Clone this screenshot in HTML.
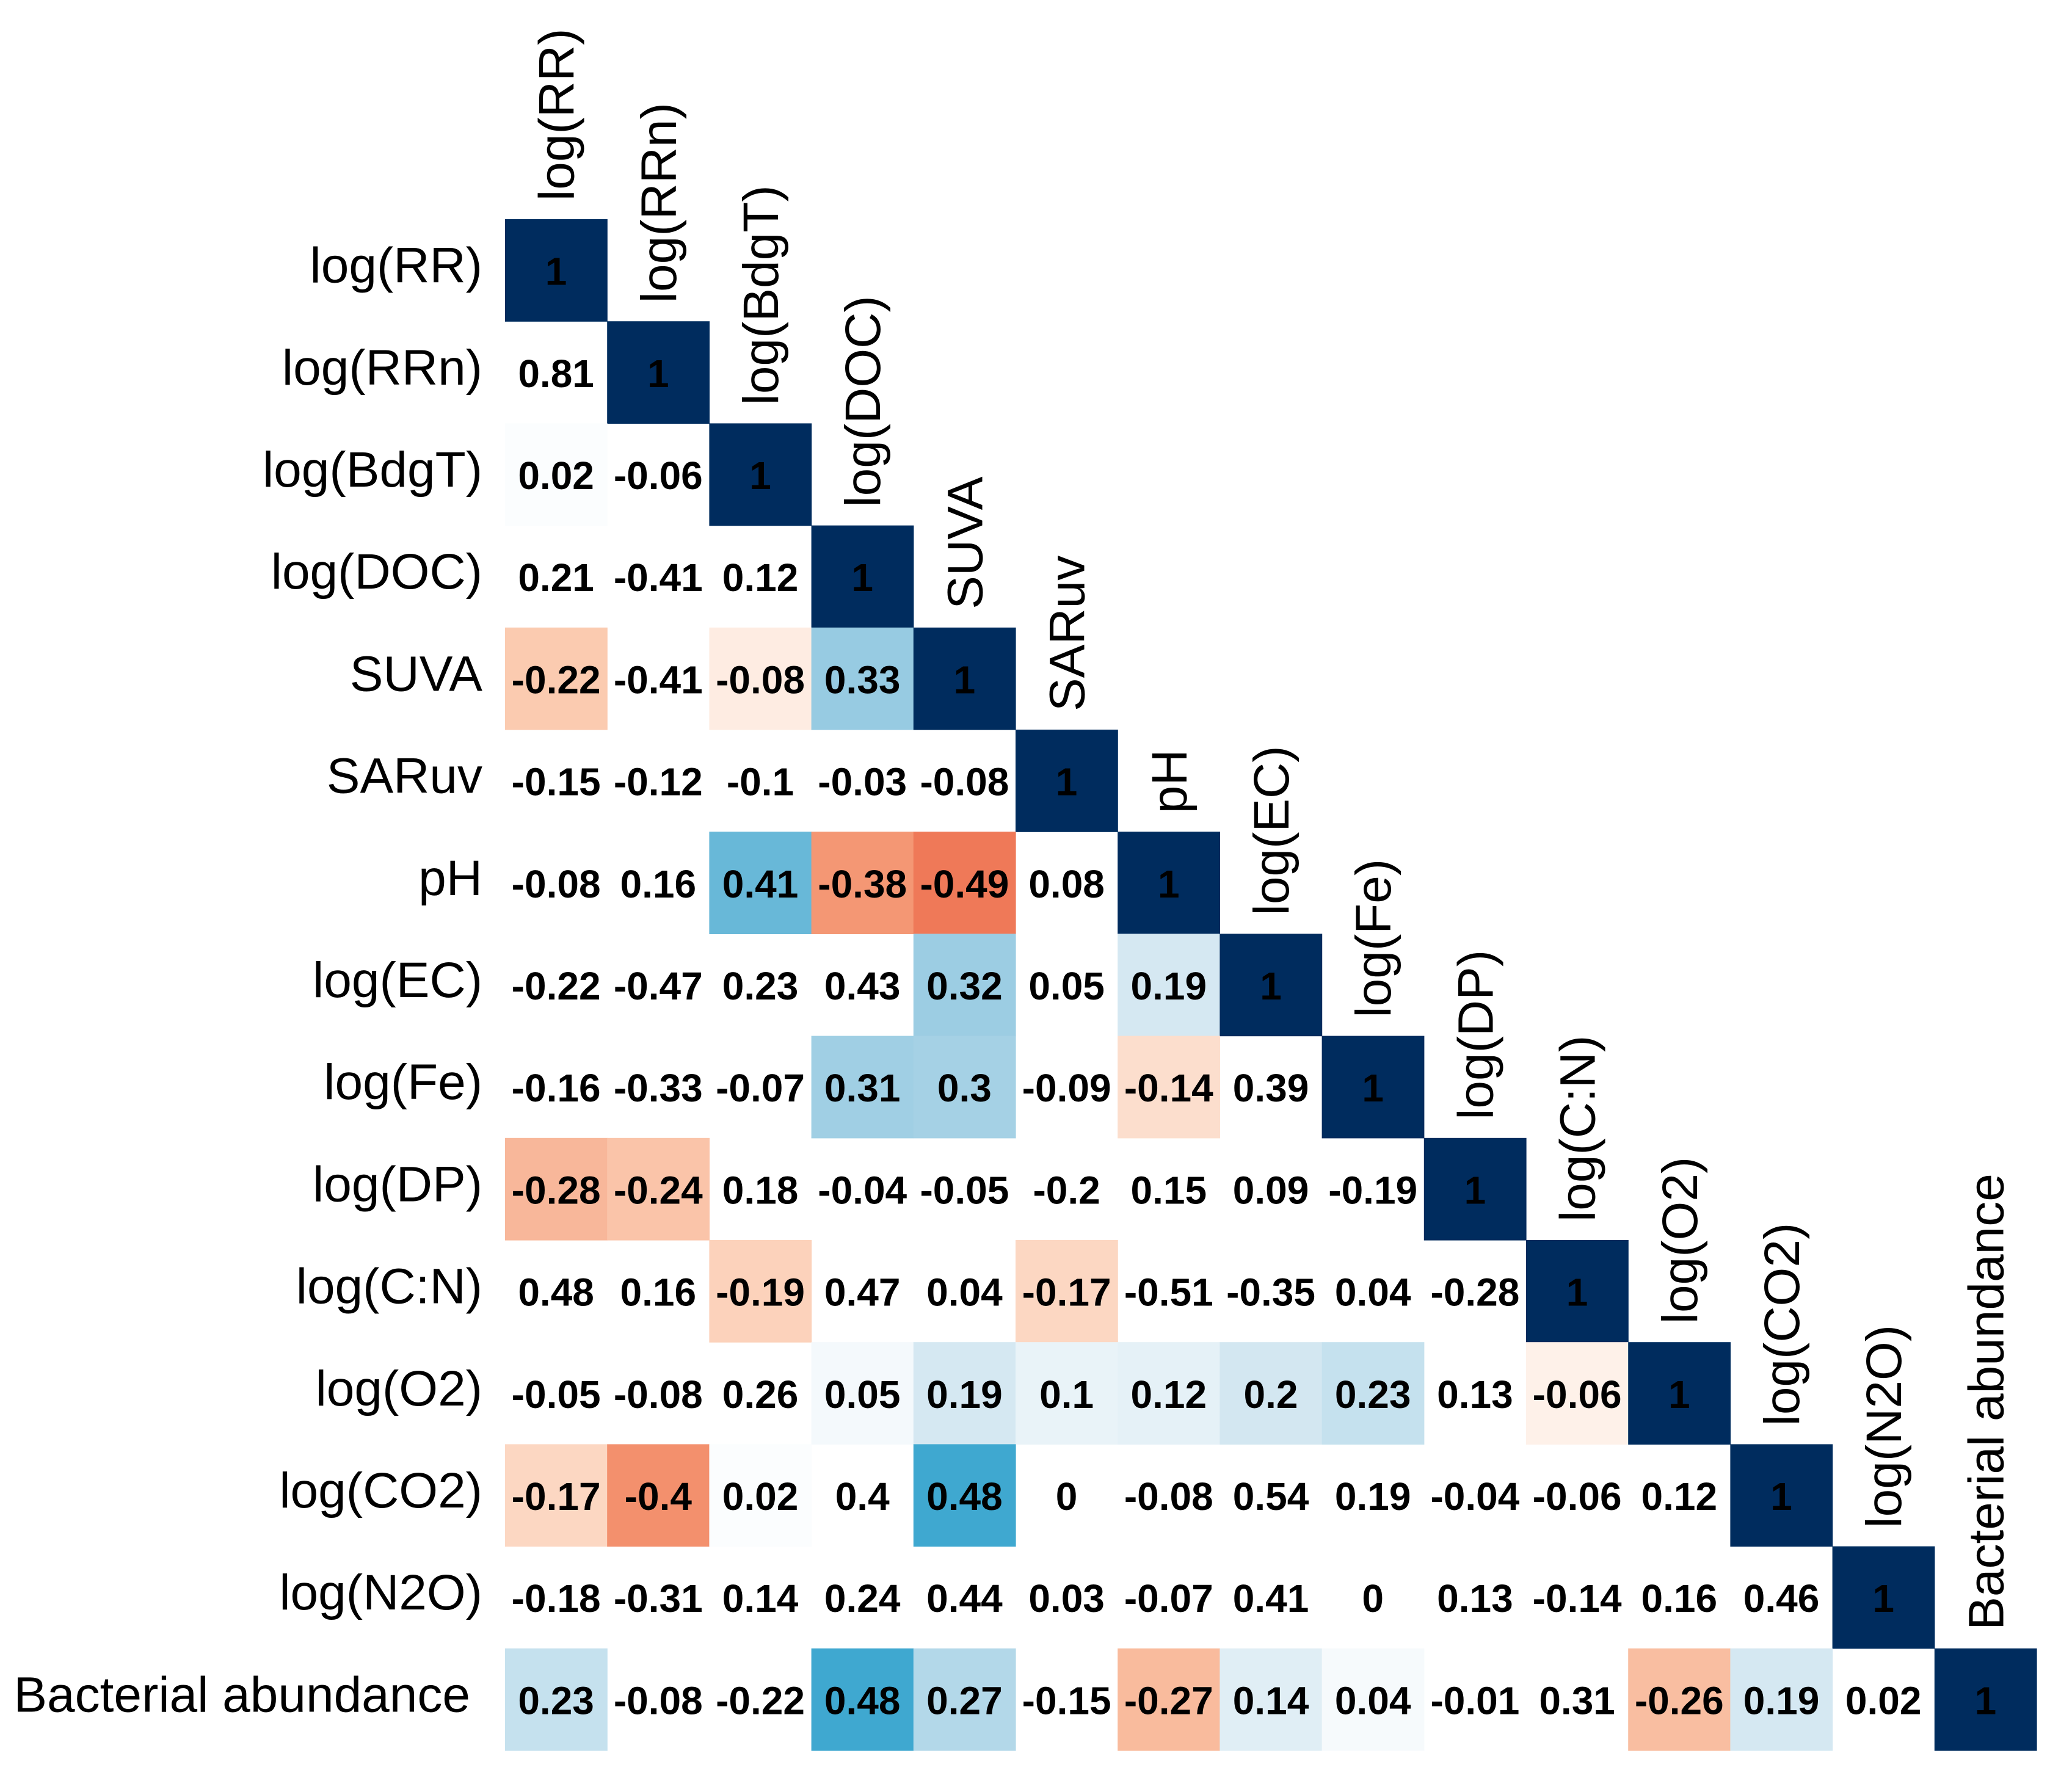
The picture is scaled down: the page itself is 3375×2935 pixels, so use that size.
<!DOCTYPE html>
<html><head><meta charset="utf-8"><style>
html,body{margin:0;padding:0;background:#fff;width:3375px;height:2935px;overflow:hidden}
svg{display:block}
</style></head><body>
<svg id="chart" width="3375" height="2935" xmlns="http://www.w3.org/2000/svg" font-family="Liberation Sans, Arial, sans-serif"></svg>
<script>
const labels = ["log(RR)","log(RRn)","log(BdgT)","log(DOC)","SUVA","SARuv","pH","log(EC)","log(Fe)","log(DP)","log(C:N)","log(O2)","log(CO2)","log(N2O)","Bacterial abundance"];
const values = [
 [1],
 [0.81,1],
 [0.02,-0.06,1],
 [0.21,-0.41,0.12,1],
 [-0.22,-0.41,-0.08,0.33,1],
 [-0.15,-0.12,-0.1,-0.03,-0.08,1],
 [-0.08,0.16,0.41,-0.38,-0.49,0.08,1],
 [-0.22,-0.47,0.23,0.43,0.32,0.05,0.19,1],
 [-0.16,-0.33,-0.07,0.31,0.3,-0.09,-0.14,0.39,1],
 [-0.28,-0.24,0.18,-0.04,-0.05,-0.2,0.15,0.09,-0.19,1],
 [0.48,0.16,-0.19,0.47,0.04,-0.17,-0.51,-0.35,0.04,-0.28,1],
 [-0.05,-0.08,0.26,0.05,0.19,0.1,0.12,0.2,0.23,0.13,-0.06,1],
 [-0.17,-0.4,0.02,0.4,0.48,0,-0.08,0.54,0.19,-0.04,-0.06,0.12,1],
 [-0.18,-0.31,0.14,0.24,0.44,0.03,-0.07,0.41,0,0.13,-0.14,0.16,0.46,1],
 [0.23,-0.08,-0.22,0.48,0.27,-0.15,-0.27,0.14,0.04,-0.01,0.31,-0.26,0.19,0.02,1]
];
// 1 = significant (coloured), 0 = blank
const significant = [
 [1],
 [0,1],
 [1,0,1],
 [0,0,0,1],
 [1,0,1,1,1],
 [0,0,0,0,0,1],
 [0,0,1,1,1,0,1],
 [0,0,0,0,1,0,1,1],
 [0,0,0,1,1,0,1,0,1],
 [1,1,0,0,0,0,0,0,0,1],
 [0,0,1,0,0,1,0,0,0,0,1],
 [0,0,0,1,1,1,1,1,1,0,1,1],
 [1,1,1,0,1,0,0,0,0,0,0,0,1],
 [0,0,0,0,0,0,0,0,0,0,0,0,0,1],
 [1,0,0,1,1,0,1,1,1,0,0,1,1,0,1]
];
const X0=827, Y0=359, CW=167.2, CH=167.2;
const xPos=j=>X0+j*CW, yPos=i=>Y0+i*CH;
function lerp(a,b,t){return a.map((v,k)=>Math.round(v+(b[k]-v)*t));}
function hex(h){return [1,3,5].map(k=>parseInt(h.substr(k,2),16));}
function colour(v){
  if(v>=0.999) return "#002c5e";
  const blue=[[0,"#ffffff"],[0.2,"#d3e7f1"],[0.33,"#97cbe2"],[0.48,"#3fa8d0"],[0.7,"#2166ac"],[1,"#053061"]];
  const red=[[0,"#ffffff"],[0.22,"#fbcbb0"],[0.4,"#f3906d"],[0.5,"#ef7656"],[1,"#67001f"]];
  const s=v>=0?blue:red, a=Math.abs(v);
  for(let k=1;k<s.length;k++){ if(a<=s[k][0]){const t=(a-s[k-1][0])/(s[k][0]-s[k-1][0]);const c=lerp(hex(s[k-1][1]),hex(s[k][1]),t);return `rgb(${c.join(',')})`;}}
  return s[s.length-1][1];
}
const svg=document.getElementById('chart'), NS="http://www.w3.org/2000/svg";
function mk(tag,attrs){const e=document.createElementNS(NS,tag);for(const k in attrs)e.setAttribute(k,attrs[k]);svg.appendChild(e);return e;}
values.forEach((row,i)=>row.forEach((v,j)=>{
  if(significant[i][j]){
    const r=mk('rect',{x:xPos(j),y:yPos(i),width:CW+0.6,height:CH+0.6,fill:colour(v)});
    
    
  }
}));
values.forEach((row,i)=>row.forEach((v,j)=>{
  const t=mk('text',{x:xPos(j)+CW/2,y:yPos(i)+CH/2+24,'text-anchor':'middle','font-size':64,'font-weight':'bold',fill:'#000'});
  t.textContent=String(v);
  
  
}));
labels.forEach((l,i)=>{
  const t=mk('text',{x:i===14?770:790,y:yPos(i)+CH/2+20,'text-anchor':'end','font-size':82,fill:'#000'});
  t.textContent=l;
  
  
  const cx=xPos(i)+CW/2+29, by=yPos(i)-30;
  const c=mk('text',{x:0,y:0,transform:`translate(${cx},${by}) rotate(-90)`,'text-anchor':'start','font-size':82,fill:'#000'});
  c.textContent=l;
  
  
});
</script>
</body></html>
